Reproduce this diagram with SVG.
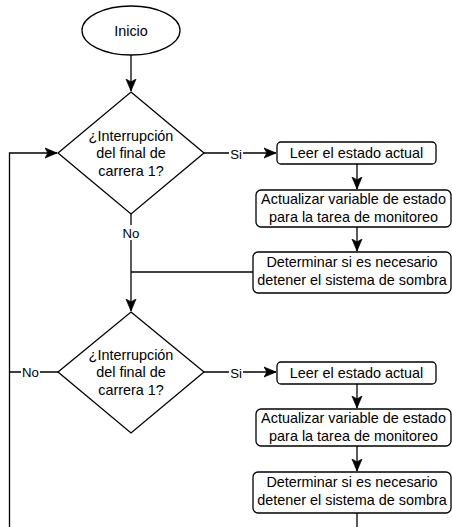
<svg xmlns="http://www.w3.org/2000/svg" width="452" height="527" viewBox="0 0 452 527">
  <style>
    .shape { fill: #ffffff; stroke: #000000; stroke-width: 1.3; }
    .edge { fill: none; stroke: #000000; stroke-width: 1.3; }
    .txt { font-family: "Liberation Sans", Arial, sans-serif; font-size: 14.4px; fill: #000000; text-anchor: middle; }
    .lbl { font-family: "Liberation Sans", Arial, sans-serif; font-size: 13.2px; fill: #000000; text-anchor: middle; }
    .lblbg { fill: #ffffff; stroke: none; }
  </style>
  <defs>
    <marker id="arrow" markerUnits="userSpaceOnUse" markerWidth="12" markerHeight="12" viewBox="0 0 10 10" refX="10" refY="5" orient="auto">
      <path d="M0,0.8 L10,5 L0,9.2 L2.4,5 Z" fill="#000000" stroke="#000000" stroke-width="0.6"/>
    </marker>
  </defs>
  <rect width="452" height="527" fill="#ffffff"/>

  <!-- connectors -->
  <g id="connectors">
    <path class="edge" d="M131,55 L131,91" marker-end="url(#arrow)"/>
    <path class="edge" d="M203,153 L276,153" marker-end="url(#arrow)"/>
    <path class="edge" d="M357,164 L357,189" marker-end="url(#arrow)"/>
    <path class="edge" d="M357,227 L357,251" marker-end="url(#arrow)"/>
    <path class="edge" d="M253,272 L131,272"/>
    <path class="edge" d="M131,214 L131,311" marker-end="url(#arrow)"/>
    <path class="edge" d="M203,372 L276,372" marker-end="url(#arrow)"/>
    <path class="edge" d="M357,384 L357,408" marker-end="url(#arrow)"/>
    <path class="edge" d="M357,446 L357,471" marker-end="url(#arrow)"/>
    <path class="edge" d="M357,513 L357,530"/>
    <path class="edge" d="M58,372 L9.5,372"/>
    <path class="edge" d="M9.5,530 L9.5,153 L57,153" marker-end="url(#arrow)"/>
    <!-- edge labels -->
    <rect class="lblbg" x="229" y="146" width="14" height="15"/>
    <text class="lbl" x="236" y="158.5">Si</text>
    <rect class="lblbg" x="121" y="225" width="20" height="15"/>
    <text class="lbl" x="131" y="237.5">No</text>
    <rect class="lblbg" x="229" y="365" width="14" height="15"/>
    <text class="lbl" x="236" y="377.5">Si</text>
    <rect class="lblbg" x="21" y="365" width="19" height="15"/>
    <text class="lbl" x="30.5" y="377">No</text>
  </g>

  <g id="inicio">
    <ellipse class="shape" cx="131" cy="30.5" rx="49" ry="24.5"/>
    <text class="txt" x="131" y="35.5">Inicio</text>
  </g>

  <g id="decision1">
    <polygon class="shape" points="131,92 204,153 131,214 58,153"/>
    <text class="txt" x="131" y="141">¿Interrupción</text>
    <text class="txt" x="131" y="158">del final de</text>
    <text class="txt" x="131" y="175.5">carrera 1?</text>
  </g>

  <g id="leer1">
    <rect class="shape" x="277" y="142" width="159" height="22" rx="4"/>
    <text class="txt" x="356.5" y="158">Leer el estado actual</text>
  </g>

  <g id="actualizar1">
    <rect class="shape" x="256" y="190" width="195" height="37" rx="5"/>
    <text class="txt" x="353.5" y="204">Actualizar variable de estado</text>
    <text class="txt" x="353.5" y="221.5">para la tarea de monitoreo</text>
  </g>

  <g id="determinar1">
    <rect class="shape" x="253" y="252" width="198" height="41" rx="5"/>
    <text class="txt" x="352" y="267">Determinar si es necesario</text>
    <text class="txt" x="352" y="284.5">detener el sistema de sombra</text>
  </g>

  <g id="decision2">
    <polygon class="shape" points="131,312 204,372 131,433 58,372"/>
    <text class="txt" x="131" y="360">¿Interrupción</text>
    <text class="txt" x="131" y="377">del final de</text>
    <text class="txt" x="131" y="394.5">carrera 1?</text>
  </g>

  <g id="leer2">
    <rect class="shape" x="277" y="362" width="159" height="22" rx="4"/>
    <text class="txt" x="356.5" y="378">Leer el estado actual</text>
  </g>

  <g id="actualizar2">
    <rect class="shape" x="256" y="409" width="195" height="37" rx="5"/>
    <text class="txt" x="353.5" y="423">Actualizar variable de estado</text>
    <text class="txt" x="353.5" y="440.5">para la tarea de monitoreo</text>
  </g>

  <g id="determinar2">
    <rect class="shape" x="253" y="472" width="198" height="41" rx="5"/>
    <text class="txt" x="352" y="487">Determinar si es necesario</text>
    <text class="txt" x="352" y="504.5">detener el sistema de sombra</text>
  </g>
</svg>
